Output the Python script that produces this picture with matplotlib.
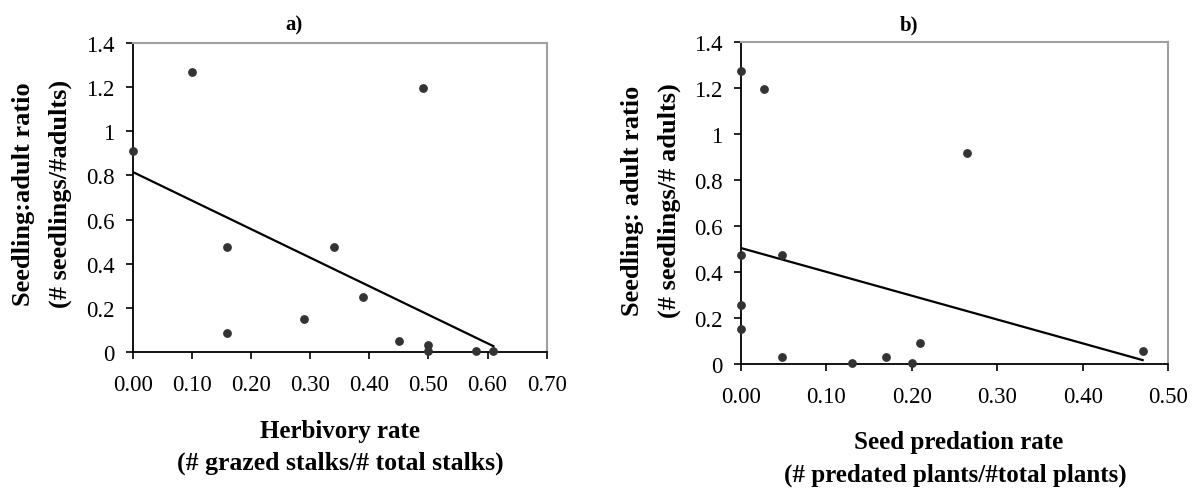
import matplotlib.pyplot as plt

plt.rcParams['font.family'] = ['Liberation Serif', 'DejaVu Serif']

# Panel a: herbivory rate vs seedling:adult ratio
herb_x = [0.00, 0.10, 0.16, 0.16, 0.29, 0.34, 0.39, 0.45, 0.49, 0.50, 0.50, 0.58, 0.61]
herb_y = [0.91, 1.27, 0.475, 0.085, 0.15, 0.475, 0.25, 0.05, 1.195, 0.032, 0.003, 0.003, 0.003]
herb_fit_x = [0.00, 0.61]
herb_fit_y = [0.816, 0.025]

# Panel b: seed predation rate vs seedling:adult ratio
pred_x = [0.00, 0.027, 0.265, 0.00, 0.048, 0.00, 0.00, 0.048, 0.13, 0.17, 0.20, 0.21, 0.47]
pred_y = [1.275, 1.197, 0.918, 0.474, 0.474, 0.257, 0.152, 0.030, 0.004, 0.030, 0.004, 0.091, 0.057]
pred_fit_x = [0.00, 0.47]
pred_fit_y = [0.505, 0.017]

W, H = 1192, 489
fig = plt.figure(figsize=(W / 100, H / 100), dpi=100)


def px_axes(left, top, right, bottom):
    return fig.add_axes([left / W, 1 - bottom / H, (right - left) / W, (bottom - top) / H])


def style(ax, xmax, xticks):
    ax.set_xlim(0, xmax)
    ax.set_ylim(0, 1.4)
    ax.set_xticks(xticks)
    ax.set_xticklabels(['%.2f' % t for t in xticks])
    ax.set_yticks([0, 0.2, 0.4, 0.6, 0.8, 1.0, 1.2, 1.4])
    ax.set_yticklabels(['0', '0.2', '0.4', '0.6', '0.8', '1', '1.2', '1.4'])
    ax.tick_params(labelsize=16.5, length=5, width=1.2, direction='out')
    ax.tick_params(axis='x', pad=11)
    ax.tick_params(axis='y', pad=8)
    for side in ['top', 'right']:
        ax.spines[side].set_color('#a0a0a0')
        ax.spines[side].set_linewidth(1.5)
    for side in ['left', 'bottom']:
        ax.spines[side].set_color('black')
        ax.spines[side].set_linewidth(1.3)


def text(x, y, s, **kw):
    fig.text(x / W, 1 - y / H, s, ha='center', va='center', fontweight='bold', **kw)


ax1 = px_axes(132.7, 44.3, 546.7, 352.7)
ax1.plot(herb_fit_x, herb_fit_y, color='black', lw=1.6, zorder=2)
ax1.scatter(herb_x, herb_y, s=28, color='#333333', zorder=3, clip_on=False)
style(ax1, 0.7, [0.0, 0.1, 0.2, 0.3, 0.4, 0.5, 0.6, 0.7])

ax2 = px_axes(740.7, 43.3, 1168.3, 365)
ax2.plot(pred_fit_x, pred_fit_y, color='black', lw=1.6, zorder=2)
ax2.scatter(pred_x, pred_y, s=28, color='#333333', zorder=3, clip_on=False)
style(ax2, 0.5, [0.0, 0.1, 0.2, 0.3, 0.4, 0.5])

text(294, 25, 'a)', fontsize=15)
text(340, 432, 'Herbivory rate', fontsize=18)
text(340, 463, '(# grazed stalks/# total stalks)', fontsize=18.5)
text(24, 194, 'Seedling:adult ratio', fontsize=19, rotation=90)
text(60, 194, '(# seedlings/#adults)', fontsize=19, rotation=90)

text(909, 25, 'b)', fontsize=15)
text(959, 443, 'Seed predation rate', fontsize=18)
text(955, 475, '(# predated plants/#total plants)', fontsize=18)
text(632, 201, 'Seedling: adult ratio', fontsize=19, rotation=90)
text(669, 201, '(# seedlings/# adults)', fontsize=19, rotation=90)

fig.savefig('out.png', dpi=100)
